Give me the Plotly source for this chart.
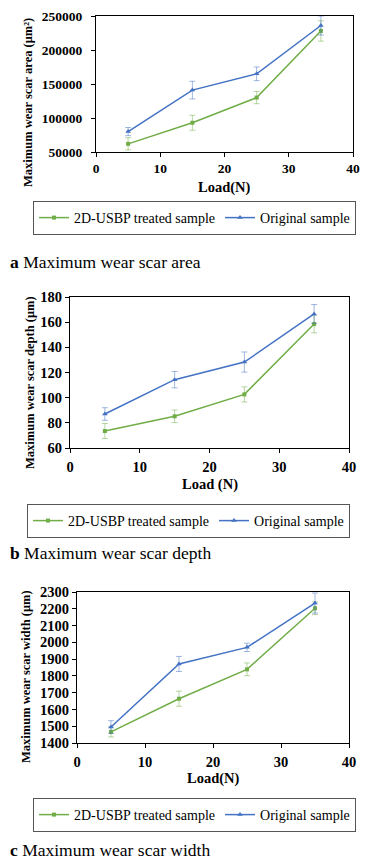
import plotly.graph_objects as go

W, H = 371, 860

load = [5, 15, 25, 35]

# Panel a: maximum wear scar area (µm²)
area_treated = [62000, 93000, 130000, 228000]
area_treated_err = [9000, 11000, 9000, 15000]
area_original = [80000, 141000, 165000, 236000]
area_original_err = [6000, 13000, 10000, 14000]

# Panel b: maximum wear scar depth (µm)
depth_treated = [73.5, 85.2, 102.6, 158.5]
depth_treated_err = [6, 5, 6, 7]
depth_original = [87, 114.3, 128.3, 166.5]
depth_original_err = [5, 6.5, 8, 7.5]

# Panel c: maximum wear scar width (µm)
width_treated = [1466, 1664, 1839, 2203]
width_treated_err = [30, 45, 38, 38]
width_original = [1495, 1871, 1970, 2234]
width_original_err = [38, 45, 25, 60]

series_names = ["2D-USBP treated sample", "Original sample"]
x_titles = ["Load(N)", "Load (N)", "Load(N)"]
y_titles = ["Maximum wear scar area (μm²)", "Maximum wear scar depth (μm)", "Maximum wear scar width (μm)"]
y_ranges = [[50000, 250000], [60, 180], [1400, 2300]]
y_dticks = [50000, 20, 100]
captions = [("a", "Maximum wear scar area"), ("b", "Maximum wear scar depth"), ("c", "Maximum wear scar width")]

GREEN = "#70AD47"
BLUE = "#4472C4"
GREEN_ERR = "rgba(112,173,71,0.5)"
BLUE_ERR = "rgba(68,114,196,0.5)"
FONT = "Liberation Serif"

# pixel layouts: (left, right, top, bottom) of plot areas
boxes = [(96, 353, 16, 152), (70, 349, 297, 448), (77, 349, 592, 743)]
tick_sizes = [13.5, 14.5, 14.5]
ylab_standoff = [6, 0, 0]
xlab_standoff = [0, 2, 2]
ytitle_pos = [(28, 103), (30, 383), (26, 677)]
xtitle_y = [187, 484, 778]
legend_pos = [(33, 201), (27, 504), (33, 798)]
caption_y = [262, 553, 850]

data = [
    (area_treated, area_treated_err, area_original, area_original_err),
    (depth_treated, depth_treated_err, depth_original, depth_original_err),
    (width_treated, width_treated_err, width_original, width_original_err),
]

fig = go.Figure()
layout = dict(
    width=W, height=H, margin=dict(l=0, r=0, t=0, b=0, autoexpand=False),
    paper_bgcolor="white", plot_bgcolor="white",
    font=dict(family=FONT, color="black"),
    showlegend=True,
)
annotations = []

for i, (tv, te, ov, oe) in enumerate(data):
    sfx = "" if i == 0 else str(i + 1)
    leg = "legend" if i == 0 else f"legend{i + 1}"
    fig.add_trace(go.Scatter(
        x=load, y=tv, mode="lines+markers", name=series_names[0],
        line=dict(color=GREEN, width=1.5),
        marker=dict(color=GREEN, size=4, symbol="square"),
        error_y=dict(type="data", array=te, visible=True, color=GREEN_ERR, thickness=1, width=3),
        xaxis="x" + sfx, yaxis="y" + sfx, legend=leg,
    ))
    fig.add_trace(go.Scatter(
        x=load, y=ov, mode="lines+markers", name=series_names[1],
        line=dict(color=BLUE, width=1.5),
        marker=dict(color=BLUE, size=5, symbol="triangle-up"),
        error_y=dict(type="data", array=oe, visible=True, color=BLUE_ERR, thickness=1, width=3),
        xaxis="x" + sfx, yaxis="y" + sfx, legend=leg,
    ))
    l, r, t, b = boxes[i]
    tickfont = dict(family=FONT, size=tick_sizes[i], color="black", weight="bold")
    axis_common = dict(
        showline=True, linecolor="black", linewidth=1, mirror=True,
        showgrid=False, zeroline=False, ticks="outside", ticklen=4,
        tickcolor="black", tickfont=tickfont, automargin=False,
    )
    layout["xaxis" + sfx] = dict(
        axis_common, domain=[l / W, r / W], range=[0, 40], dtick=10,
        anchor="y" + sfx, ticklabelstandoff=xlab_standoff[i],
    )
    layout["yaxis" + sfx] = dict(
        axis_common, domain=[1 - b / H, 1 - t / H], range=y_ranges[i], dtick=y_dticks[i],
        anchor="x" + sfx, tickformat="d", ticklabelstandoff=ylab_standoff[i],
    )
    # axis titles
    tx, ty = ytitle_pos[i]
    annotations.append(dict(
        x=tx / W, y=1 - ty / H, xref="paper", yref="paper", textangle=-90,
        xanchor="center", yanchor="middle", showarrow=False, text=y_titles[i],
        font=dict(family=FONT, size=12.5, color="black", weight="bold"),
    ))
    annotations.append(dict(
        x=(l + r) / 2 / W, y=1 - xtitle_y[i] / H, xref="paper", yref="paper",
        xanchor="center", yanchor="middle", showarrow=False, text=x_titles[i],
        font=dict(family=FONT, size=14.5, color="black", weight="bold"),
    ))
    lx, ly = legend_pos[i]
    layout[leg] = dict(
        x=lx / W, y=1 - ly / H, xanchor="left", yanchor="top",
        orientation="h", bordercolor="#555555", borderwidth=1,
        bgcolor="white", font=dict(family=FONT, size=14, color="black"),
        itemwidth=30, tracegroupgap=0,
    )

for i, (letter, text) in enumerate(captions):
    annotations.append(dict(
        x=8 / W, y=1 - caption_y[i] / H, xref="paper", yref="paper",
        xanchor="left", yanchor="middle", showarrow=False,
        text=f"<b>{letter}</b> {text}",
        font=dict(family=FONT, size=17.5, color="black"),
    ))
layout["annotations"] = annotations

fig.update_layout(**layout)
fig.write_html(
    "out.html",
    config={"displayModeBar": False},
    post_script="document.body.style.margin='0';document.body.style.overflow='hidden';",
)
